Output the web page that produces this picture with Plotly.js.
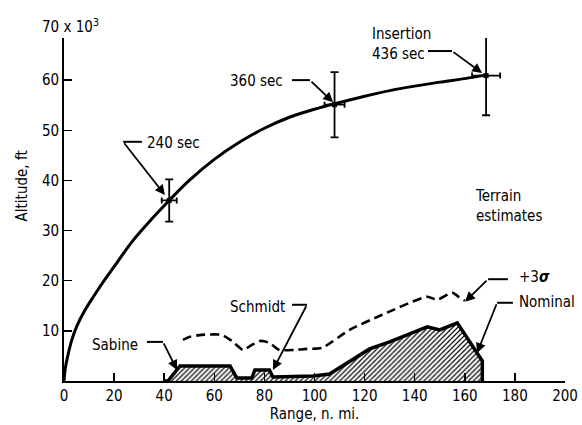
<!DOCTYPE html>
<html>
<head>
<meta charset="utf-8">
<script src="https://cdn.plot.ly/plotly-3.0.1.min.js"></script>
<style>html,body{margin:0;padding:0;background:#fff;}#chart{width:582px;height:425px;}</style>
</head>
<body>
<div id="chart"></div>
<script>
// Ascent trajectory (range n. mi., altitude x 10^3 ft)
const ascentRange = [0, 0.5, 1.5, 3, 5, 8, 12, 16, 20, 27.5, 35, 42, 50, 60, 70, 80, 90, 100, 108, 120, 130, 140, 150, 160, 168.5];
const ascentAlt   = [0, 2.5, 5, 8, 10.8, 13.8, 17, 20, 22.8, 28, 32.3, 36, 40, 44.2, 47.6, 50.4, 52.6, 54.2, 55.3, 56.8, 57.9, 58.8, 59.6, 60.3, 61];

// Event points with dispersion bars
const eventLabels   = ["240 sec", "360 sec", "Insertion 436 sec"];
const eventRange    = [42, 108, 168.5];
const eventAlt      = [36, 55.1, 60.9];
const eventErrAlt   = [4.2, 6.5, 7.9];
const eventErrRange = [3, 4, 5.6];

// Terrain estimates
const nominalRange = [40, 41.5, 46.3, 66.3, 69, 75, 76.2, 82, 83.4, 99.4, 106, 122, 130, 145, 150, 157, 167, 167];
const nominalAlt   = [0, 0, 3, 3, 0.6, 0.6, 2.2, 2.2, 0.8, 1.0, 1.4, 6.4, 7.8, 10.8, 10.2, 11.6, 4.0, 0];
const sigmaRange = [47.5, 50.3, 55, 63, 67, 71.5, 75, 78.5, 82, 86, 92, 97, 103, 114, 127, 145, 149, 155, 157.5, 160];
const sigmaAlt   = [8.2, 8.8, 9.2, 9.2, 8.0, 6.2, 7.2, 8.0, 7.6, 6.2, 6.2, 6.4, 6.6, 10.2, 13.2, 16.8, 16.2, 17.6, 16.8, 16.0];

// Axis ticks
const xTicks = [0, 20, 40, 60, 80, 100, 120, 140, 160, 180, 200];
const yTicks = [10, 20, 30, 40, 50, 60];

const FONT = "DejaVu Sans Condensed, DejaVu Sans, sans-serif";

const traces = [
  {
    x: nominalRange, y: nominalAlt, type: "scatter", mode: "lines",
    line: {color: "#000", width: 3.5},
    fill: "tozeroy", fillcolor: "rgba(0,0,0,0)",
    fillpattern: {shape: "/", size: 3.5, solidity: 0.35, fgcolor: "#000", bgcolor: "#fff"},
    hoverinfo: "skip", showlegend: false
  },
  {
    x: sigmaRange, y: sigmaAlt, type: "scatter", mode: "lines",
    line: {color: "#000", width: 2.6, dash: "9px,5px", shape: "spline", smoothing: 0.6},
    hoverinfo: "skip", showlegend: false
  },
  {
    x: ascentRange, y: ascentAlt, type: "scatter", mode: "lines",
    line: {color: "#000", width: 3, shape: "spline", smoothing: 1},
    hoverinfo: "skip", showlegend: false
  },
  {
    x: eventRange, y: eventAlt, type: "scatter", mode: "markers",
    text: eventLabels,
    marker: {color: "#000", size: 5, symbol: "square"},
    error_y: {type: "data", array: eventErrAlt, visible: true, color: "#000", thickness: 1.8, width: 4},
    error_x: {type: "data", array: eventErrRange, visible: true, color: "#000", thickness: 1.8, width: 3},
    hoverinfo: "skip", showlegend: false
  }
];

// Label annotations: [text, x, y, xanchor]
const labels = [
  ["240 sec", 32.3, 47.5, "left"],
  ["360 sec", 88.4, 59.8, "right"],
  ["Insertion<br>436 sec", 122.2, 67.3, "left"],
  ["Terrain<br>estimates", 163.3, 34.8, "left"],
  ["+3<b><i>σ</i></b>", 180.8, 20.7, "left"],
  ["Nominal", 180.8, 15.8, "left"],
  ["Schmidt", 89, 14.8, "right"],
  ["Sabine", 30.3, 7.2, "right"]
];
// Leader lines: [stubX0, stubX1 (elbow), stubY, tipX, tipY]
const leaders = [
  [31.1, 23.6, 47.7, 40.3, 37.1],
  [91.0, 98.2, 60.0, 107.4, 55.6],
  [145.3, 154.9, 65.8, 166.9, 61.4],
  [177.2, 169.3, 20.3, 160.1, 15.8],
  [179.2, 172.9, 15.6, 164.9, 5.6],
  [91.0, 97.0, 15.2, 83.4, 2.2],
  [33.1, 39.5, 7.8, 45.1, 2.2]
];

const annotations = [];
labels.forEach(l => annotations.push({
  text: l[0], x: l[1], y: l[2], xref: "x", yref: "y", xanchor: l[3], yanchor: "middle",
  align: "left", showarrow: false, font: {family: FONT, size: 15, color: "#000"}
}));
const shapes = [];
leaders.forEach(d => {
  shapes.push({type: "line", xref: "x", yref: "y", x0: d[0], x1: d[1], y0: d[2], y1: d[2], line: {color: "#000", width: 2}});
  annotations.push({
    text: "", x: d[3], y: d[4], xref: "x", yref: "y", axref: "x", ayref: "y", ax: d[1], ay: d[2],
    showarrow: true, arrowhead: 2, arrowsize: 1.1, arrowwidth: 1.8, arrowcolor: "#000"
  });
});
annotations.push({
  text: "70 x 10<sup>3</sup>", xref: "paper", yref: "paper", x: -0.048, y: 1.035,
  xanchor: "left", yanchor: "middle", showarrow: false, font: {family: FONT, size: 15, color: "#000"}
});
annotations.push({
  text: "Altitude, ft", xref: "paper", yref: "paper", x: -0.082, y: 0.57, textangle: -90,
  xanchor: "center", yanchor: "middle", showarrow: false, font: {family: FONT, size: 15, color: "#000"}
});

const layout = {
  width: 582, height: 425,
  margin: {l: 64, r: 17, t: 38, b: 44},
  paper_bgcolor: "#fff", plot_bgcolor: "#fff",
  font: {family: FONT, size: 15, color: "#000"},
  showlegend: false,
  xaxis: {
    range: [0, 200], tickvals: xTicks, ticktext: xTicks.map(String),
    ticks: "inside", ticklen: 8, tickwidth: 1.5, tickcolor: "#000",
    showline: true, linecolor: "#000", linewidth: 1.8, showgrid: false, zeroline: false,
    tickfont: {family: FONT, size: 15},
    title: {text: "Range, n. mi.", font: {family: FONT, size: 15}, standoff: 4}
  },
  yaxis: {
    range: [0, 68.4], tickvals: yTicks, ticktext: yTicks.map(String),
    ticks: "inside", ticklen: 8, tickwidth: 1.5, tickcolor: "#000",
    showline: true, linecolor: "#000", linewidth: 1.8, showgrid: false, zeroline: false,
    tickfont: {family: FONT, size: 15}
  },
  annotations: annotations,
  shapes: shapes
};

Plotly.newPlot("chart", traces, layout, {displayModeBar: false, staticPlot: true});
</script>
</body>
</html>
